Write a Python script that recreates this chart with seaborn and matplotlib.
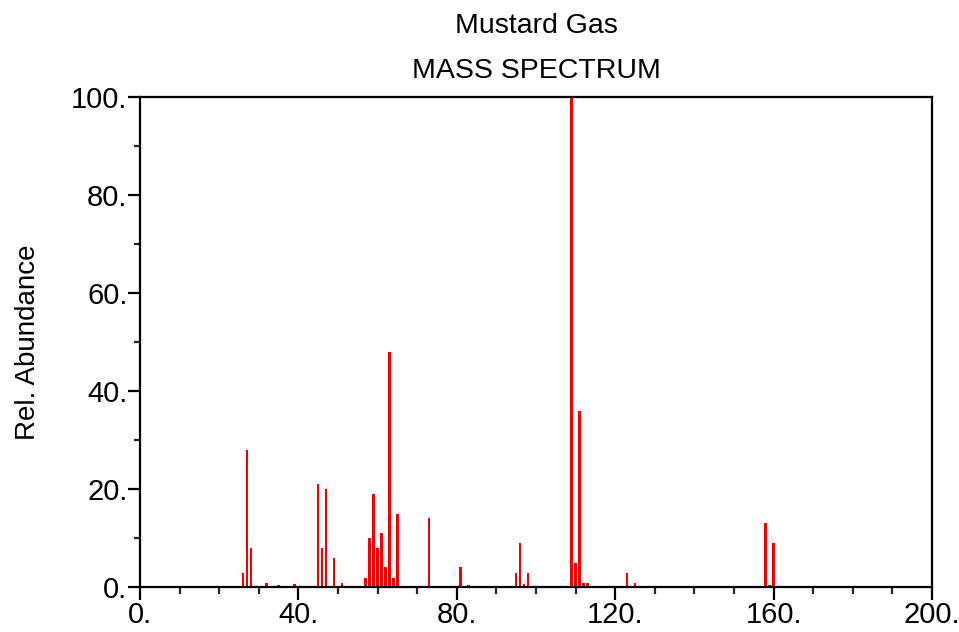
import matplotlib
matplotlib.use("Agg")
import matplotlib.pyplot as plt
from matplotlib.ticker import MultipleLocator, FuncFormatter
import seaborn as sns

# peaks (m/z, relative abundance)
mz = [26, 27, 28, 32, 35, 39, 44, 45, 46, 47, 49, 51, 57, 58, 59, 60, 61, 62,
      63, 64, 65, 73, 75, 81, 83, 84, 93, 95, 96, 97, 98, 109, 110, 111, 112,
      113, 123, 125, 154, 158, 159, 160, 161]
abundance = [2.8, 28, 8, 0.9, 0.5, 0.6, 0.3, 21, 8, 20, 6, 0.9, 1.9, 10, 19, 8,
             11, 4, 48, 1.9, 15, 14, 0.3, 4, 0.4, 0.2, 0.2, 2.8, 9, 0.7, 2.8,
             100, 5, 36, 0.9, 0.9, 2.9, 0.9, 0.2, 13, 0.5, 9, 0.2]

title_lines = ["Mustard Gas", "MASS SPECTRUM"]
y_label = "Rel. Abundance"

sns.set_style("ticks")
plt.rcParams['font.family'] = ['Liberation Sans', 'DejaVu Sans']
plt.rcParams['text.color'] = 'black'
plt.rcParams['axes.labelcolor'] = 'black'

fig = plt.figure(figsize=(9.59, 6.32), dpi=100)
ax = fig.add_axes([140 / 959, 1 - 587 / 632, 792 / 959, 490 / 632])

sns.barplot(x=mz, y=abundance, native_scale=True, width=0.65,
            color="#f00000", saturation=1, errorbar=None,
            edgecolor="#f00000", linewidth=0, ax=ax)

ax.set_xlim(0, 200)
ax.set_ylim(0, 100)

ax.xaxis.set_major_locator(MultipleLocator(40))
ax.xaxis.set_minor_locator(MultipleLocator(10))
ax.yaxis.set_major_locator(MultipleLocator(20))
ax.yaxis.set_minor_locator(MultipleLocator(10))
fmt = FuncFormatter(lambda v, pos: f"{v:.0f}.")
ax.xaxis.set_major_formatter(fmt)
ax.yaxis.set_major_formatter(fmt)

ax.tick_params(axis="both", which="major", direction="out", length=9,
               width=1.6, labelsize=21, color="black", labelcolor="black")
ax.tick_params(axis="x", which="major", pad=1)
ax.tick_params(axis="y", which="major", pad=0)
ax.tick_params(axis="x", which="minor", direction="out", length=5, width=1.6)
ax.tick_params(axis="y", which="minor", direction="out", length=4, width=1.6)

for side in ["left", "bottom", "top", "right"]:
    ax.spines[side].set_visible(True)
    ax.spines[side].set_linewidth(1.6)
    ax.spines[side].set_color("black")

ax.set_xlabel("")
ax.set_ylabel(y_label, fontsize=20, labelpad=22)

fig.text(536 / 959, 1 - 33 / 632, title_lines[0], ha="center", va="baseline", fontsize=20.5)
fig.text(536 / 959, 1 - 78 / 632, title_lines[1], ha="center", va="baseline", fontsize=20.5)

fig.savefig("out.png", dpi=100)
plt.close(fig)
